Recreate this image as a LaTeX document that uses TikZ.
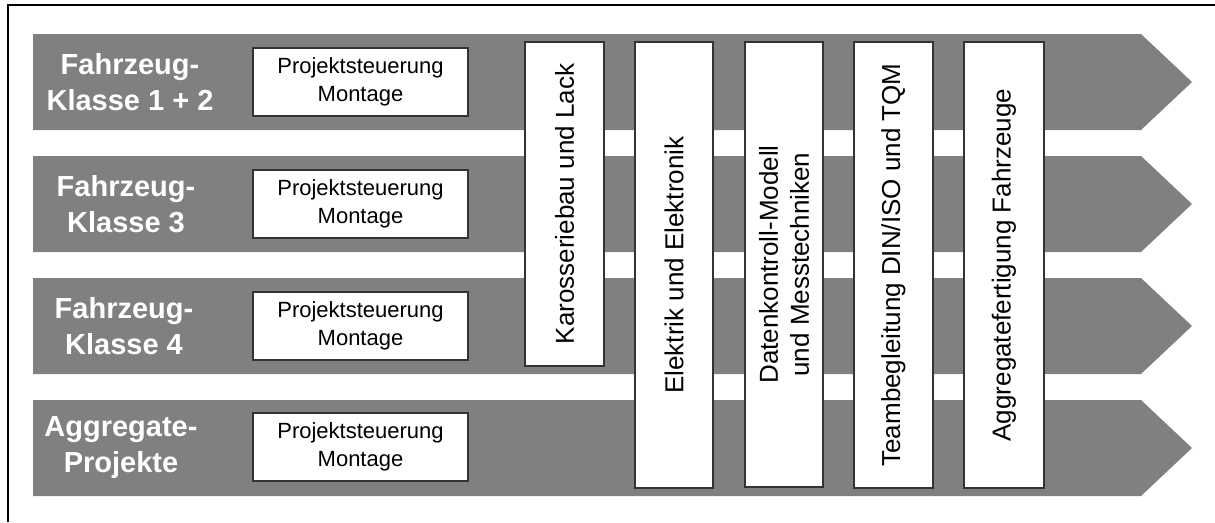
\documentclass[tikz,border=0pt]{standalone}
\usepackage{fontspec}
\setmainfont{Liberation Sans}
\definecolor{bandgray}{HTML}{808080}
\definecolor{boxline}{HTML}{333333}
\tikzset{
  band/.style={fill=bandgray, draw=none},
  lbl/.style={text=white, font=\fontsize{29}{36}\selectfont\bfseries, align=center, inner sep=0pt},
  pbox/.style={draw=boxline, fill=white, line width=1.2pt, minimum width=215pt, minimum height=68pt, inner sep=0pt, align=center, font=\fontsize{22}{28}\selectfont},
  vbox/.style={draw=boxline, fill=white, line width=1.2pt, rotate=90, inner sep=0pt, align=center, font=\fontsize{26}{31}\selectfont},
  frameline/.style={draw=black, line width=2pt}
}
\begin{document}
\begin{tikzpicture}[x=1pt,y=-1pt]
\useasboundingbox (0,0) rectangle (1215,522);
% frame
\coordinate (fb) at (8,522);
\coordinate (fc) at (8,5);
\coordinate (fr) at (1215,5);
\draw[frameline] (fb) -- (fc) -- (fr);
% bands
\foreach \t in {34,156,278,400}{
  \fill[band] (33,\t) -- (1141,\t) -- (1192,\t+48) -- (1141,\t+96) -- (33,\t+96) -- cycle;
}
% labels
\node[lbl] (l1) at (130,82) {Fahrzeug-\\Klasse 1 + 2};
\node[lbl] (l2) at (126,204) {Fahrzeug-\\Klasse 3};
\node[lbl] (l3) at (124,326) {Fahrzeug-\\Klasse 4};
\node[lbl] (l4) at (121,448) {Aggregate-\\Projekte};
% project boxes
\node[pbox] (p1) at (360.5,82) {Projektsteuerung\\Montage};
\node[pbox] (p2) at (360.5,204) {Projektsteuerung\\Montage};
\node[pbox] (p3) at (360.5,326) {Projektsteuerung\\Montage};
\node[pbox] (p4) at (360.5,447) {Projektsteuerung\\Montage};
% vertical boxes
\node[vbox, minimum width=324pt, minimum height=79pt] (v1) at (564.5,204) {Karosseriebau und Lack};
\node[vbox, minimum width=446pt, minimum height=78pt] (v2) at (674,265) {Elektrik und Elektronik};
\node[vbox, minimum width=445pt, minimum height=78pt] (v3) at (784,264.5) {Datenkontroll-Modell\\und Messtechniken};
\node[vbox, minimum width=446pt, minimum height=79pt] (v4) at (893.5,265) {Teambegleitung DIN/ISO und TQM};
\node[vbox, minimum width=446pt, minimum height=80pt] (v5) at (1004,265) {Aggregatefertigung Fahrzeuge};
\end{tikzpicture}
\end{document}
